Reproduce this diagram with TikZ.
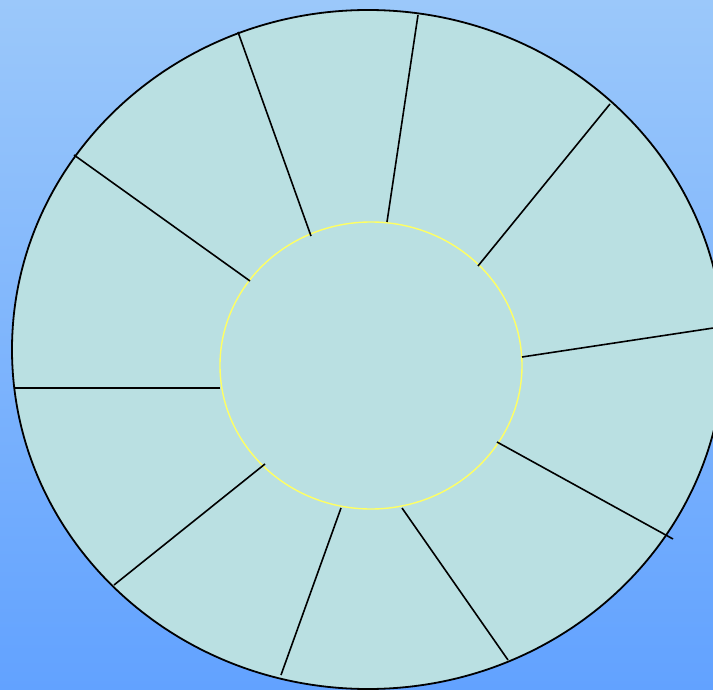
\documentclass[tikz,border=0pt]{standalone}
\begin{document}
\begin{tikzpicture}[x=1pt,y=-1pt,
  bgtop/.style={},
  spoke/.style={draw=black,line width=1.6pt},
  outerring/.style={draw=black,line width=1.8pt,fill=tealfill},
  innerring/.style={draw=ringyellow,line width=1.4pt}]
\definecolor{skytop}{RGB}{155,200,250}
\definecolor{skybot}{RGB}{98,162,255}
\definecolor{tealfill}{RGB}{186,224,226}
\definecolor{ringyellow}{RGB}{255,255,100}
\useasboundingbox (0,0) rectangle (713,690);
\shade[top color=skytop,bottom color=skybot] (0,0) rectangle (713,690);
\begin{scope}
\clip (0,0) rectangle (713,690);
\draw[outerring] (368,349.5) ellipse [x radius=356, y radius=339.5];
\draw[innerring] (371,365.5) ellipse [x radius=151, y radius=143.5];
% inner end points
\coordinate (i1) at (311,236);
\coordinate (i2) at (387,222);
\coordinate (i3) at (478,266);
\coordinate (i4) at (522,357);
\coordinate (i5) at (497,442);
\coordinate (i6) at (402,508);
\coordinate (i7) at (341,508);
\coordinate (i8) at (265,464);
\coordinate (i9) at (220,388);
\coordinate (i10) at (250,281);
% outer end points
\coordinate (o1) at (238,32);
\coordinate (o2) at (418,15);
\coordinate (o3) at (610,104);
\coordinate (o4) at (720,327);
\coordinate (o5) at (673,539);
\coordinate (o6) at (508,660);
\coordinate (o7) at (281,675);
\coordinate (o8) at (114,585);
\coordinate (o9) at (15,388);
\coordinate (o10) at (74,155);
\foreach \k in {1,...,10} {\draw[spoke] (i\k) -- (o\k);}
\end{scope}
\end{tikzpicture}
\end{document}
